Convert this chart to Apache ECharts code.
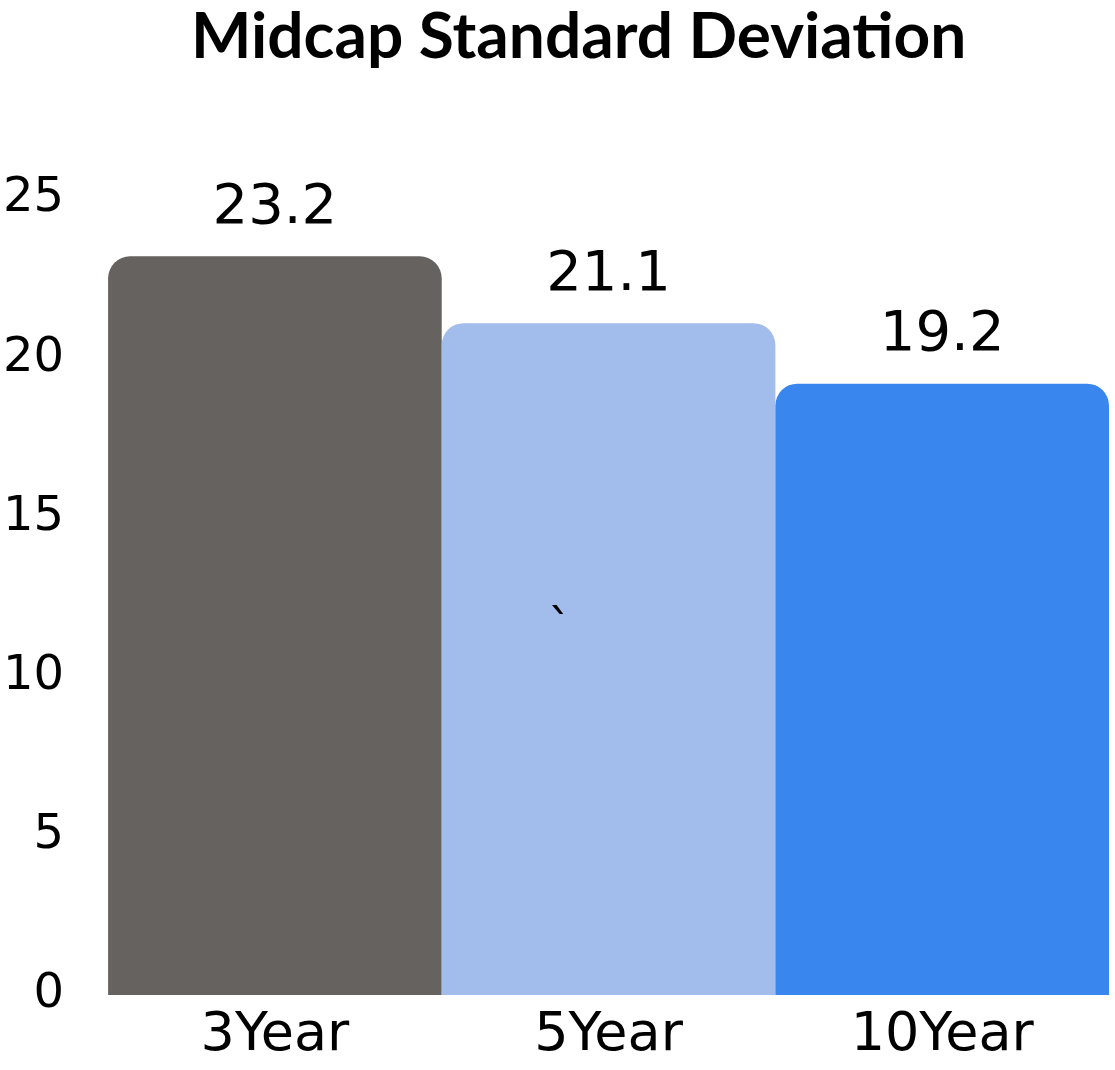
<!DOCTYPE html>
<html lang="en">
<head>
    <meta charset="UTF-8">
    <title>Midcap Standard Deviation</title>
    <script src="https://cdn.jsdelivr.net/npm/echarts@6/dist/echarts.min.js"></script>
    <style>
        html, body { margin: 0; padding: 0; background: #fff; }
        #chart { width: 1115px; height: 1070px; }
    </style>
</head>
<body>
    <div id="chart"></div>
    <script>
        // data
        const periods = ['3Year', '5Year', '10Year'];
        const stdDev = [23.2, 21.1, 19.2];
        const barColors = ['#666260', '#a2bceb', '#3886ee'];
        const yTicks = [0, 5, 10, 15, 20, 25];

        const bodyFont = '"DejaVu Sans", sans-serif';
        const titleFont = 'Lato, "DejaVu Sans", sans-serif';

        var chart = echarts.init(document.getElementById('chart'));

        var option = {
            backgroundColor: '#fff',
            animation: false,
            title: {
                text: 'Midcap Standard Deviation',
                left: 186,
                top: 0,
                textStyle: { fontFamily: titleFont, fontWeight: 'bold', fontSize: 64, color: '#000' }
            },
            grid: { left: 107, right: 6, top: 199, bottom: 75 },
            xAxis: {
                type: 'category',
                data: periods,
                axisLine: { show: false },
                axisTick: { show: false },
                axisLabel: { fontFamily: bodyFont, fontSize: 54, color: '#000', margin: 14 }
            },
            yAxis: {
                type: 'value',
                min: yTicks[0],
                max: yTicks[yTicks.length - 1],
                interval: 5,
                splitLine: { show: false },
                axisLine: { show: false },
                axisTick: { show: false },
                axisLabel: { fontFamily: bodyFont, fontSize: 48, color: '#000', margin: 44 }
            },
            series: [{
                type: 'bar',
                data: stdDev.map((v, i) => ({ value: v, itemStyle: { color: barColors[i] } })),
                barCategoryGap: 0,
                itemStyle: { borderRadius: [22, 22, 0, 0] },
                label: {
                    show: true,
                    position: 'top',
                    distance: 20,
                    fontFamily: bodyFont,
                    fontSize: 56,
                    color: '#000'
                }
            }],
            graphic: [{
                type: 'text',
                x: 548,
                y: 608,
                z: 100,
                style: { text: '`', font: '48px "DejaVu Sans"', fill: '#000' }
            }]
        };

        chart.setOption(option);
    </script>
</body>
</html>
